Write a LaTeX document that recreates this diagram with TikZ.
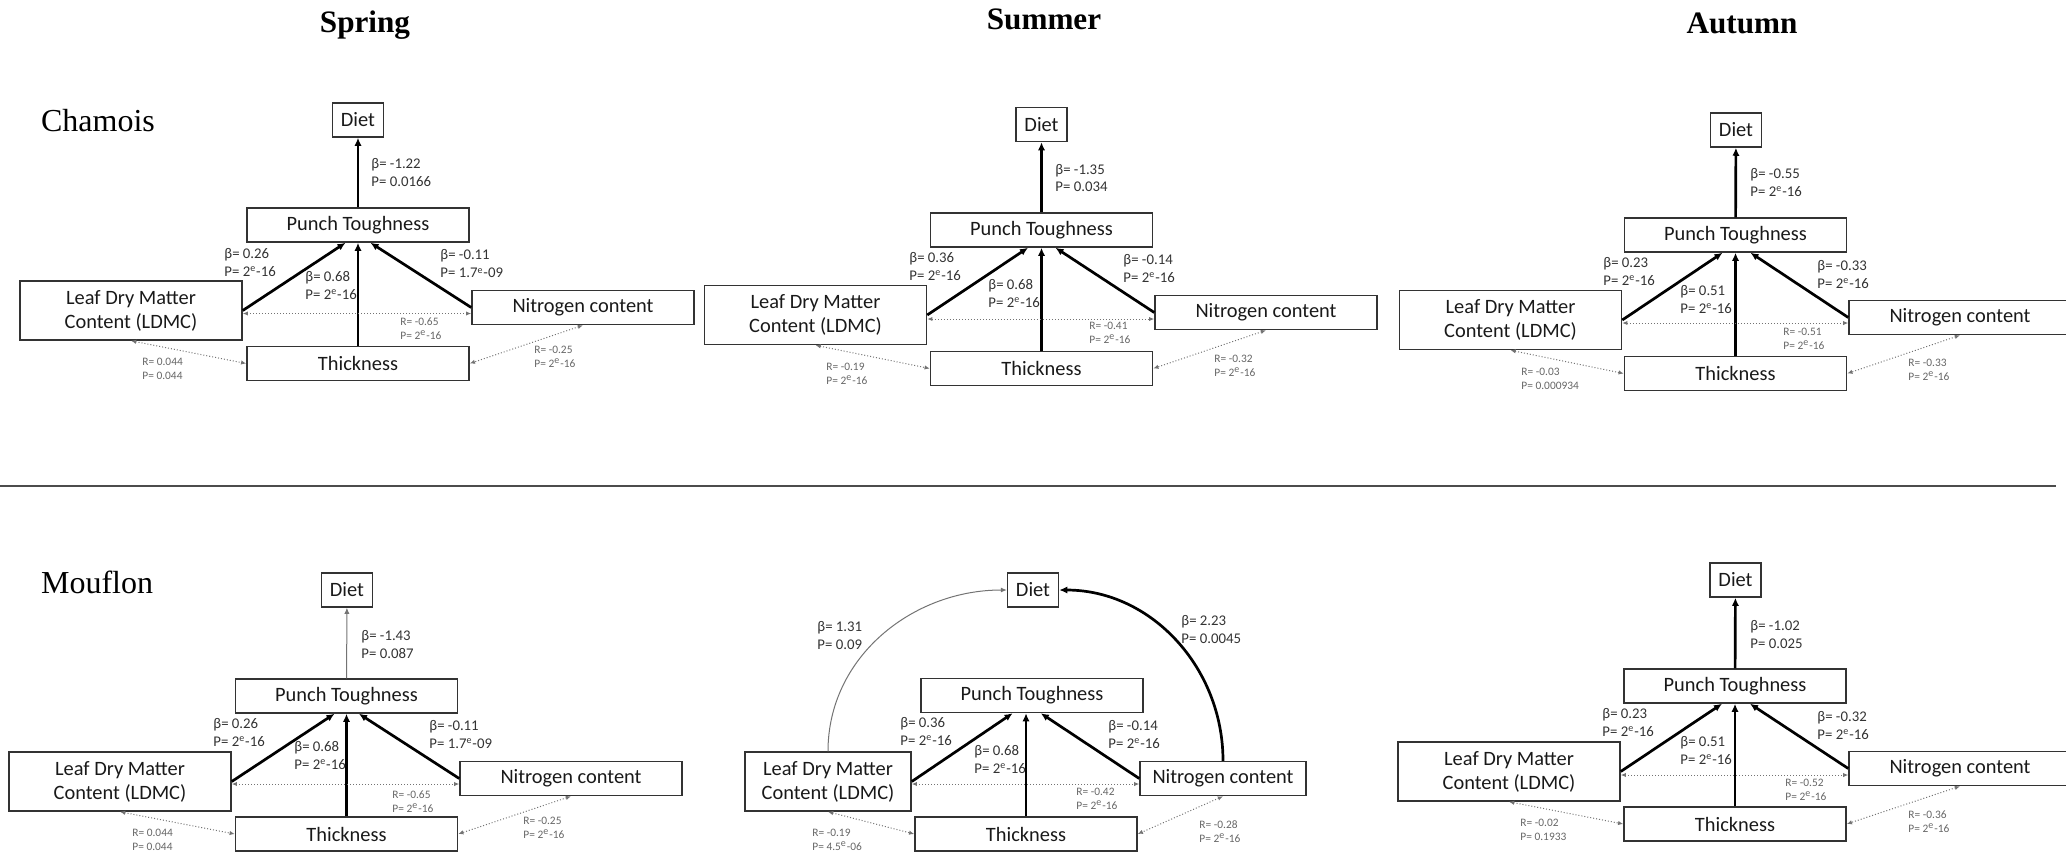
\documentclass[tikz,border=0pt]{standalone}
\usepackage{fontspec}
\setmainfont{Carlito}
\newfontfamily\titlefont{Liberation Serif}
\usetikzlibrary{arrows.meta}
\tikzset{
    base/.style={draw=black!80, line width=0.75pt, rectangle, minimum width=111pt, minimum height=17pt, inner sep=0pt, align=center, font=\fontsize{10.2}{12}\selectfont, text=black!90},
    small/.style={base, minimum width=25.5pt},
    tall/.style={base, minimum height=29.5pt},
    arrow/.style={-{Latex[length=4pt,width=3.6pt]}, line width=1.35pt},
    weak/.style={-{Latex[length=3pt,width=2.6pt]}, line width=0.5pt, black!55},
    corr/.style={{Latex[length=2.6pt,width=2.2pt]}-{Latex[length=2.6pt,width=2.2pt]}, densely dotted, line width=0.5pt, black!55},
    coef/.style={anchor=west, align=left, inner sep=0pt, font=\fontsize{7.4}{9}\selectfont, text=black!80},
    corrlab/.style={anchor=west, align=left, inner sep=0pt, font=\fontsize{5.7}{7}\selectfont, text=black!60},
    season/.style={anchor=base, font=\titlefont\bfseries\fontsize{15.6}{18}\selectfont},
    species/.style={anchor=base west, font=\titlefont\fontsize{16}{19}\selectfont}
}

\begin{document}
\begin{tikzpicture}[x=0.5pt, y=-0.5pt]
\useasboundingbox (0,0) rectangle (2066,858);

\node[season] (spring) at (365,32) {Spring};
\node[season] (summer) at (1044,29) {Summer};
\node[season] (autumn) at (1742,33) {Autumn};
\node[species] (chamois) at (34,131) {Chamois};
\node[species] (mouflon) at (34,593) {Mouflon};

\coordinate (rulel) at (0,485.5);
\coordinate (ruler) at (2056,485.5);
\draw[black!70, line width=1pt] (rulel) -- (ruler);

% Chamois, spring
\node[small] (dietA) at (358,120) {Diet};
\node[base] (punchA) at (358,225) {Punch Toughness};
\node[tall] (ldmcA) at (131,310.5) {Leaf Dry Matter\\Content (LDMC)};
\node[base] (nitroA) at (583,307.5) {Nitrogen content};
\node[base] (thickA) at (358,363.5) {Thickness};
\draw[arrow] (punchA) -- (dietA);
\draw[arrow] (ldmcA.east) -- ([xshift=-6.25pt]punchA.south);
\draw[arrow] (thickA) -- (punchA);
\draw[arrow] (nitroA.west) -- ([xshift=6.25pt]punchA.south);
\draw[corr] ([yshift=-1.5pt]ldmcA.east) -- ([yshift=-3pt]nitroA.west);
\draw[corr] (ldmcA.south) -- (thickA.west);
\draw[corr] (nitroA.south) -- (thickA.east);
\node[coef] (bdA) at (371,173) {β= -1.22\\P= 0.0166};
\node[coef] (blA) at (224,262) {β= 0.26\\P= 2{\tiny\textsuperscript{e}}-16};
\node[coef] (btA) at (305,285) {β= 0.68\\P= 2{\tiny\textsuperscript{e}}-16};
\node[coef] (bnA) at (440,264) {β= -0.11\\P= 1.7{\tiny\textsuperscript{e}}-09};
\node[corrlab] (rlnA) at (400,329) {R= -0.65\\P= 2{\tiny\textsuperscript{e}}-16};
\node[corrlab] (rltA) at (142,369) {R= 0.044\\P= 0.044};
\node[corrlab] (rntA) at (534,357) {R= -0.25\\P= 2{\tiny\textsuperscript{e}}-16};

% Chamois, summer
\node[small] (dietB) at (1041.5,124.5) {Diet};
\node[base] (punchB) at (1041.5,230) {Punch Toughness};
\node[tall] (ldmcB) at (815.5,315) {Leaf Dry Matter\\Content (LDMC)};
\node[base] (nitroB) at (1266,312.5) {Nitrogen content};
\node[base] (thickB) at (1041.5,368.5) {Thickness};
\draw[arrow] (punchB) -- (dietB);
\draw[arrow] (ldmcB.east) -- ([xshift=-6.75pt]punchB.south);
\draw[arrow] (thickB) -- (punchB);
\draw[arrow] (nitroB.west) -- ([xshift=7pt]punchB.south);
\draw[corr] ([yshift=-2pt]ldmcB.east) -- ([yshift=-3.25pt]nitroB.west);
\draw[corr] (ldmcB.south) -- (thickB.west);
\draw[corr] (nitroB.south) -- (thickB.east);
\node[coef] (bdB) at (1055,178) {β= -1.35\\P= 0.034};
\node[coef] (blB) at (909,266) {β= 0.36\\P= 2{\tiny\textsuperscript{e}}-16};
\node[coef] (btB) at (988,293) {β= 0.68\\P= 2{\tiny\textsuperscript{e}}-16};
\node[coef] (bnB) at (1123,268) {β= -0.14\\P= 2{\tiny\textsuperscript{e}}-16};
\node[corrlab] (rlnB) at (1089,333) {R= -0.41\\P= 2{\tiny\textsuperscript{e}}-16};
\node[corrlab] (rltB) at (826,374) {R= -0.19\\P= 2{\tiny\textsuperscript{e}}-16};
\node[corrlab] (rntB) at (1214,366) {R= -0.32\\P= 2{\tiny\textsuperscript{e}}-16};

% Chamois, autumn
\node[small] (dietC) at (1736,130) {Diet};
\node[base] (punchC) at (1735.5,235) {Punch Toughness};
\node[tall] (ldmcC) at (1510.5,320) {Leaf Dry Matter\\Content (LDMC)};
\node[base] (nitroC) at (1960,317.5) {Nitrogen content};
\node[base] (thickC) at (1735.5,373.5) {Thickness};
\draw[arrow] (punchC) -- (dietC);
\draw[arrow] (ldmcC.east) -- ([xshift=-6.5pt]punchC.south);
\draw[arrow] (thickC) -- (punchC);
\draw[arrow] (nitroC.west) -- ([xshift=7.5pt]punchC.south);
\draw[corr] ([yshift=-1.5pt]ldmcC.east) -- ([yshift=-2.75pt]nitroC.west);
\draw[corr] (ldmcC.south) -- (thickC.west);
\draw[corr] (nitroC.south) -- (thickC.east);
\node[coef] (bdC) at (1750,182) {β= -0.55\\P= 2{\tiny\textsuperscript{e}}-16};
\node[coef] (blC) at (1603,271) {β= 0.23\\P= 2{\tiny\textsuperscript{e}}-16};
\node[coef] (btC) at (1680,299) {β= 0.51\\P= 2{\tiny\textsuperscript{e}}-16};
\node[coef] (bnC) at (1817,274) {β= -0.33\\P= 2{\tiny\textsuperscript{e}}-16};
\node[corrlab] (rlnC) at (1783,339) {R= -0.51\\P= 2{\tiny\textsuperscript{e}}-16};
\node[corrlab] (rltC) at (1521,379) {R= -0.03\\P= 0.000934};
\node[corrlab] (rntC) at (1908,370) {R= -0.33\\P= 2{\tiny\textsuperscript{e}}-16};

% Mouflon, spring
\node[small] (dietD) at (347,590) {Diet};
\node[base] (punchD) at (346.5,696) {Punch Toughness};
\node[tall] (ldmcD) at (120,781.5) {Leaf Dry Matter\\Content (LDMC)};
\node[base] (nitroD) at (571,778.5) {Nitrogen content};
\node[base] (thickD) at (346.5,834) {Thickness};
\draw[weak] (punchD) -- (dietD);
\draw[arrow] (ldmcD.east) -- ([xshift=-6pt]punchD.south);
\draw[arrow] (thickD) -- (punchD);
\draw[arrow] (nitroD.west) -- ([xshift=6.25pt]punchD.south);
\draw[corr] ([yshift=-1.25pt]ldmcD.east) -- ([yshift=-2.75pt]nitroD.west);
\draw[corr] (ldmcD.south) -- (thickD.west);
\draw[corr] (nitroD.south) -- (thickD.east);
\node[coef] (bdD) at (361,644) {β= -1.43\\P= 0.087};
\node[coef] (blD) at (213,732) {β= 0.26\\P= 2{\tiny\textsuperscript{e}}-16};
\node[coef] (btD) at (294,755) {β= 0.68\\P= 2{\tiny\textsuperscript{e}}-16};
\node[coef] (bnD) at (429,734) {β= -0.11\\P= 1.7{\tiny\textsuperscript{e}}-09};
\node[corrlab] (rlnD) at (392,802) {R= -0.65\\P= 2{\tiny\textsuperscript{e}}-16};
\node[corrlab] (rltD) at (132,840) {R= 0.044\\P= 0.044};
\node[corrlab] (rntD) at (523,828) {R= -0.25\\P= 2{\tiny\textsuperscript{e}}-16};

% Mouflon, summer
\node[small] (dietE) at (1033,590) {Diet};
\node[base] (punchE) at (1032,695.5) {Punch Toughness};
\node[tall, minimum width=83pt] (ldmcE) at (828,781.5) {Leaf Dry Matter\\Content (LDMC)};
\node[base, minimum width=83pt] (nitroE) at (1223,778.5) {Nitrogen content};
\node[base] (thickE) at (1026,834) {Thickness};
\draw[weak] (ldmcE.north) to[out=90, in=180] (dietE.west);
\draw[arrow] (nitroE.north) to[out=90, in=0] (dietE.east);
\draw[arrow] (ldmcE.east) -- ([xshift=-9.7pt]punchE.south);
\draw[arrow] (thickE.north) -- (thickE.north |- punchE.south);
\draw[arrow] (nitroE.west) -- ([xshift=4.4pt]punchE.south);
\draw[corr] ([yshift=-1.25pt]ldmcE.east) -- ([yshift=-2.75pt]nitroE.west);
\draw[corr] (ldmcE.south) -- (thickE.west);
\draw[corr] (nitroE.south) -- (thickE.east);
\node[coef] (bldE) at (817,635) {β= 1.31\\P= 0.09};
\node[coef] (bndE) at (1181,629) {β= 2.23\\P= 0.0045};
\node[coef] (blE) at (900,731) {β= 0.36\\P= 2{\tiny\textsuperscript{e}}-16};
\node[coef] (btE) at (974,759) {β= 0.68\\P= 2{\tiny\textsuperscript{e}}-16};
\node[coef] (bnE) at (1108,734) {β= -0.14\\P= 2{\tiny\textsuperscript{e}}-16};
\node[corrlab] (rlnE) at (1076,799) {R= -0.42\\P= 2{\tiny\textsuperscript{e}}-16};
\node[corrlab] (rltE) at (812,840) {R= -0.19\\P= 4.5{\tiny\textsuperscript{e}}-06};
\node[corrlab] (rntE) at (1199,832) {R= -0.28\\P= 2{\tiny\textsuperscript{e}}-16};

% Mouflon, autumn
\node[small] (dietF) at (1735.5,580) {Diet};
\node[base] (punchF) at (1735,686) {Punch Toughness};
\node[tall] (ldmcF) at (1509,771.5) {Leaf Dry Matter\\Content (LDMC)};
\node[base] (nitroF) at (1960,768.5) {Nitrogen content};
\node[base] (thickF) at (1735,824) {Thickness};
\draw[arrow] (punchF) -- (dietF);
\draw[arrow] (ldmcF.east) -- ([xshift=-6.5pt]punchF.south);
\draw[arrow] (thickF) -- (punchF);
\draw[arrow] (nitroF.west) -- ([xshift=7.5pt]punchF.south);
\draw[corr] ([yshift=-1.75pt]ldmcF.east) -- ([yshift=-3.25pt]nitroF.west);
\draw[corr] (ldmcF.south) -- (thickF.west);
\draw[corr] (nitroF.south) -- (thickF.east);
\node[coef] (bdF) at (1750,634) {β= -1.02\\P= 0.025};
\node[coef] (blF) at (1602,722) {β= 0.23\\P= 2{\tiny\textsuperscript{e}}-16};
\node[coef] (btF) at (1680,750) {β= 0.51\\P= 2{\tiny\textsuperscript{e}}-16};
\node[coef] (bnF) at (1817,725) {β= -0.32\\P= 2{\tiny\textsuperscript{e}}-16};
\node[corrlab] (rlnF) at (1785,790) {R= -0.52\\P= 2{\tiny\textsuperscript{e}}-16};
\node[corrlab] (rltF) at (1520,830) {R= -0.02\\P= 0.1933};
\node[corrlab] (rntF) at (1908,822) {R= -0.36\\P= 2{\tiny\textsuperscript{e}}-16};
\end{tikzpicture}
\end{document}
